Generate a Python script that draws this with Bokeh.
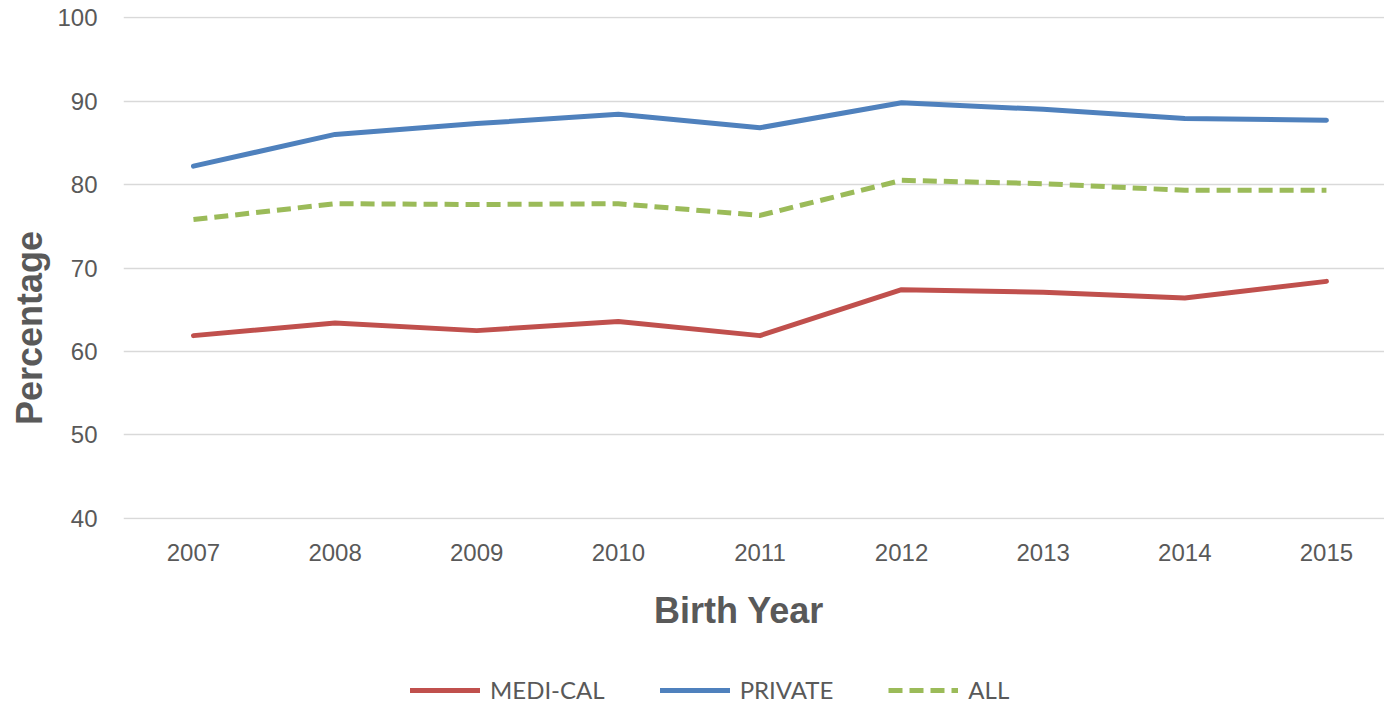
from bokeh.plotting import figure
from bokeh.layouts import column
from bokeh.models import Range1d, FixedTicker, Legend, LegendItem
from bokeh.embed import file_html
from bokeh.resources import INLINE

years = [2007, 2008, 2009, 2010, 2011, 2012, 2013, 2014, 2015]
medi_cal = [61.9, 63.4, 62.5, 63.6, 61.9, 67.4, 67.1, 66.4, 68.4]
private = [82.2, 86.0, 87.3, 88.4, 86.8, 89.8, 89.0, 87.9, 87.7]
all_ = [75.8, 77.7, 77.6, 77.7, 76.3, 80.5, 80.1, 79.3, 79.3]
y_ticks = [40, 50, 60, 70, 80, 90, 100]
series = [("MEDI-CAL", medi_cal, "#C0504D", "solid"),
          ("PRIVATE", private, "#4F81BD", "solid"),
          ("ALL", all_, "#9BBB59", "14 7")]

TXT = "#595959"
FONT = "Liberation Sans"
NB = "\u00a0"

p = figure(width=1384, height=665, output_backend="svg", toolbar_location=None,
           x_range=Range1d(2006.506, 2015.41), y_range=Range1d(39.88, 100.12),
           min_border_left=123, min_border_top=16, min_border_right=0, min_border_bottom=146)
p.outline_line_color = None
p.background_fill_color = "white"
p.border_fill_color = "white"

for name, vals, col, dash in series:
    p.line(years, vals, line_color=col, line_width=5, line_dash=dash,
           line_cap="round" if dash == "solid" else "butt", line_join="round")

p.xgrid.visible = False
p.ygrid.grid_line_color = "#D9D9D9"
p.ygrid.grid_line_width = 1.5
p.ygrid.ticker = FixedTicker(ticks=y_ticks)

p.yaxis.ticker = FixedTicker(ticks=y_ticks)
p.xaxis.ticker = FixedTicker(ticks=years)
for ax in (p.xaxis[0], p.yaxis[0]):
    ax.axis_line_color = None
    ax.major_tick_line_color = None
    ax.minor_tick_line_color = None
    ax.major_label_text_font = FONT
    ax.major_label_text_font_size = "24px"
    ax.major_label_text_color = TXT
    ax.axis_label_text_font = FONT
    ax.axis_label_text_font_size = "36px"
    ax.axis_label_text_font_style = "bold"
    ax.axis_label_text_color = TXT

p.yaxis.major_label_standoff = 20
p.xaxis.major_label_standoff = 18
p.xaxis.axis_label = "Birth Year" + NB * 3
p.xaxis.axis_label_standoff = 26
p.yaxis.axis_label = "Percentage" + NB * 12
p.yaxis.axis_label_standoff = 4

# legend strip below the chart (its lines fall outside this strip's ranges)
q = figure(width=1384, height=40, output_backend="svg", toolbar_location=None,
           x_range=Range1d(0, 1), y_range=Range1d(0, 1),
           x_axis_location=None, y_axis_location=None,
           min_border_left=0, min_border_right=0, min_border_top=0, min_border_bottom=0)
q.outline_line_color = None
q.xgrid.visible = False
q.ygrid.visible = False
items = []
for name, vals, col, dash in series:
    r = q.line(years, vals, line_color=col, line_width=5, line_dash=dash,
               line_cap="round" if dash == "solid" else "butt")
    items.append(LegendItem(label=name, renderers=[r]))
legend = Legend(items=items, orientation="horizontal", location=(287, 1),
                glyph_width=70, glyph_height=20, label_standoff=10, spacing=55,
                label_text_font="Lato", label_text_font_size="24px", label_text_color=TXT,
                border_line_color=None, background_fill_alpha=0, padding=0, margin=0)
q.add_layout(legend)

layout = column(p, q, spacing=0)
open("out.html", "w").write(file_html(layout, INLINE))
